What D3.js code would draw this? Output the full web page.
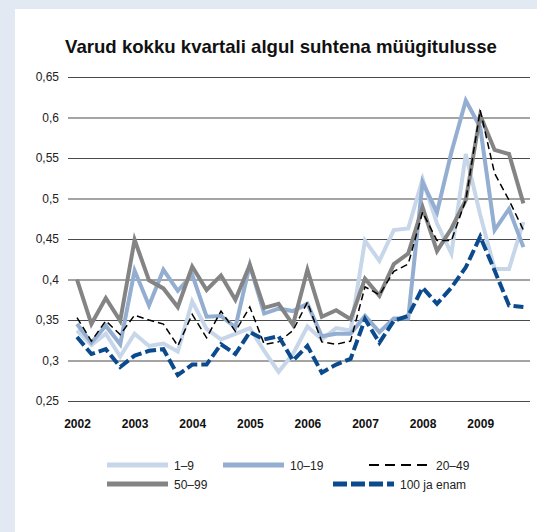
<!DOCTYPE html>
<html><head><meta charset="utf-8">
<script src="https://cdn.jsdelivr.net/npm/d3@7"></script>
<style>
body{margin:0;background:#e2e9f2;}
svg{display:block;font-family:"Liberation Sans",Arial,Helvetica,sans-serif;}
</style>
</head><body>
<svg id="chart" width="537" height="532"></svg>
<script>
// ---- data ----
const years = ["2002","2003","2004","2005","2006","2007","2008","2009"];
const quarters = years.flatMap(y => ["I","II","III","IV"].map(q => y + " " + q));
const yTicks = [0.25,0.3,0.35,0.4,0.45,0.5,0.55,0.6,0.65];
const yTickLabels = ["0,25","0,3","0,35","0,4","0,45","0,5","0,55","0,6","0,65"];
const seriesNames = ["1–9","10–19","50–99","20–49","100 ja enam"];

const s1_9   = [0.337,0.319,0.333,0.305,0.333,0.318,0.321,0.311,0.373,0.339,0.326,0.333,0.340,0.312,0.286,0.308,0.342,0.326,0.340,0.337,0.448,0.423,0.461,0.463,0.524,0.469,0.432,0.555,0.480,0.413,0.413,0.471];
const s10_19 = [0.345,0.322,0.343,0.320,0.411,0.368,0.412,0.386,0.406,0.354,0.355,0.341,0.418,0.358,0.364,0.361,0.370,0.330,0.333,0.333,0.355,0.335,0.352,0.352,0.520,0.483,0.557,0.621,0.588,0.461,0.487,0.440];
const s20_49 = [0.353,0.324,0.349,0.332,0.356,0.350,0.345,0.318,0.357,0.328,0.361,0.336,0.366,0.320,0.323,0.337,0.372,0.323,0.320,0.324,0.391,0.381,0.410,0.419,0.483,0.448,0.448,0.498,0.609,0.531,0.498,0.461];
const s50_99 = [0.400,0.345,0.377,0.349,0.449,0.399,0.389,0.366,0.416,0.387,0.405,0.375,0.418,0.365,0.370,0.344,0.412,0.354,0.362,0.351,0.401,0.380,0.419,0.432,0.489,0.435,0.463,0.498,0.603,0.560,0.555,0.494];
const s100   = [0.329,0.308,0.314,0.292,0.306,0.312,0.314,0.282,0.295,0.295,0.320,0.308,0.335,0.326,0.330,0.300,0.318,0.285,0.295,0.302,0.351,0.322,0.349,0.355,0.390,0.370,0.390,0.415,0.453,0.411,0.368,0.366];

// ---- styles ----
const styles = {
  "1–9":        {color:"#c7d7e9", width:4,   dash:null},
  "10–19":      {color:"#93aed0", width:4,   dash:null},
  "20–49":      {color:"#000000", width:1.5, dash:"7,4"},
  "50–99":      {color:"#848484", width:4,   dash:null},
  "100 ja enam":{color:"#0c4a8e", width:4,   dash:"11,4"}
};
const seriesData = {"1–9":s1_9,"10–19":s10_19,"20–49":s20_49,"50–99":s50_99,"100 ja enam":s100};

const svg = d3.select("#chart");
svg.append("rect").attr("x",15).attr("y",9).attr("width",522).attr("height",523).attr("fill","#ffffff");

const x = d3.scalePoint().domain(quarters).range([77, 523.4]);
const y = d3.scaleLinear().domain([0.25,0.65]).range([401, 77]);

// title
svg.append("text").attr("x",281).attr("y",53).attr("text-anchor","middle")
  .attr("font-size","18.6px").attr("font-weight","bold").attr("fill","#111")
  .text("Varud kokku kvartali algul suhtena müügitulusse");

// y axis with gridlines
const gx0 = 68, gx1 = 530;
const yAxis = d3.axisLeft(y).tickValues(yTicks)
  .tickFormat((d,i) => yTickLabels[i]).tickSizeInner(-(gx1-gx0)).tickSizeOuter(0).tickPadding(9);
const ya = svg.append("g").attr("transform",`translate(${gx0},0)`).call(yAxis);
ya.select(".domain").remove();
ya.selectAll("line").attr("stroke","#4a4a4a").attr("stroke-width",1.1);
ya.selectAll("text").attr("font-size","12px").attr("fill","#222").attr("font-family","Liberation Sans, Arial, sans-serif");

// x axis
const xAxis = d3.axisBottom(x).tickValues(years.map(yr => yr + " I"))
  .tickFormat(d => d.split(" ")[0]).tickSize(0).tickPadding(18);
const xa = svg.append("g").attr("transform",`translate(0,401)`).call(xAxis);
xa.select(".domain").remove();
xa.selectAll("text").attr("font-size","12px").attr("font-weight","bold").attr("fill","#111").attr("font-family","Liberation Sans, Arial, sans-serif");

// lines
const line = d3.line().x((d,i) => x(quarters[i])).y(d => y(d));
seriesNames.forEach(name => {
  const st = styles[name];
  svg.append("path").datum(seriesData[name])
    .attr("fill","none").attr("stroke",st.color).attr("stroke-width",st.width)
    .attr("stroke-linejoin","miter").attr("stroke-dasharray",st.dash)
    .attr("d",line);
});

// legend
const legendItems = [
  {name:"1–9", x:107, y:465},
  {name:"10–19", x:223, y:465},
  {name:"20–49", x:369, y:465},
  {name:"50–99", x:107, y:484},
  {name:"100 ja enam", x:333, y:484}
];
const lg = svg.append("g");
legendItems.forEach(it => {
  const st = styles[it.name];
  lg.append("line").attr("x1",it.x).attr("x2",it.x+61).attr("y1",it.y).attr("y2",it.y)
    .attr("stroke",st.color).attr("stroke-width", st.width===4 ? 5 : 2)
    .attr("stroke-dasharray", it.name==="20–49" ? "10,6" : (st.dash ? "14,4" : null));
  lg.append("text").attr("x",it.x+67).attr("y",it.y+4.5).attr("font-size","12px").attr("fill","#222")
    .text(it.name);
});
</script>
</body></html>
